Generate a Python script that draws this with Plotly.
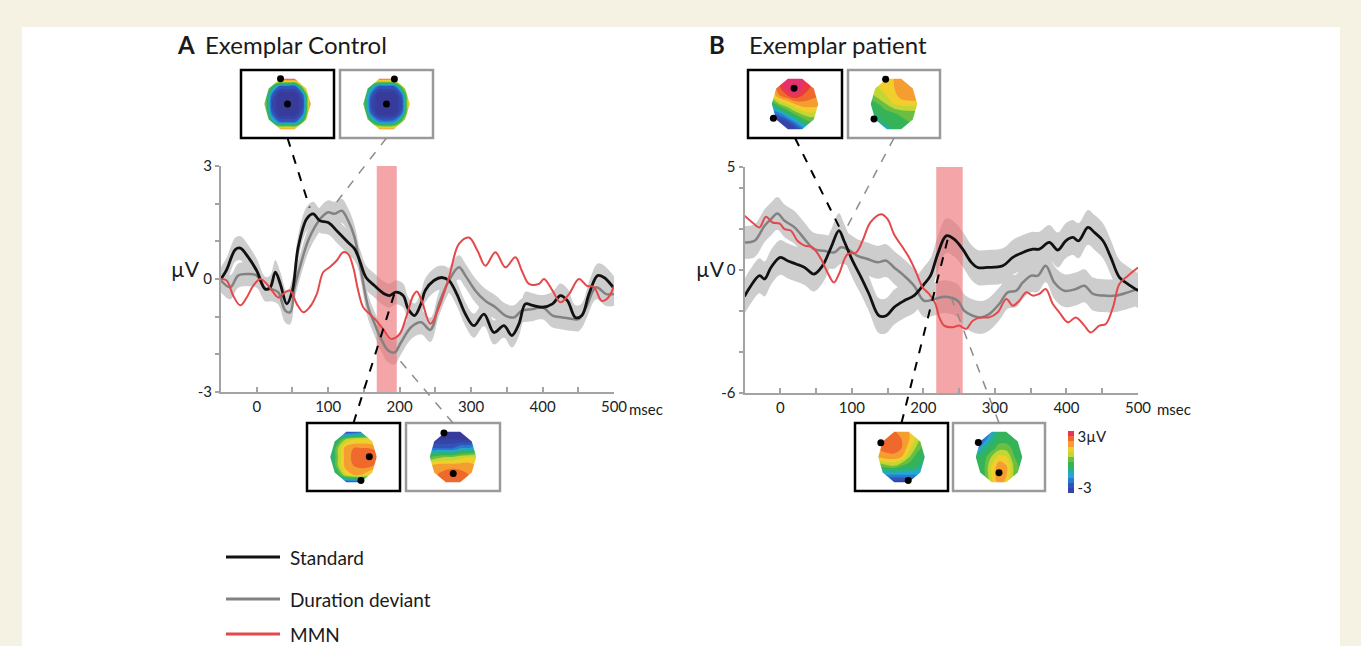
import plotly.graph_objects as go
import numpy as np

# ---------------- DATA ----------------
# Panel A: exemplar control (µV vs msec)
A_STD_T = [-50, -42, -35, -30, -23, -12, 0, 12, 19, 26, 33, 42, 50, 58, 70, 79, 88, 100, 114, 128, 137, 144,
           153, 165, 179, 186, 195, 205, 212, 221, 230, 236, 248, 259, 269, 280, 292, 304, 318, 332, 346, 357,
           367, 376, 386, 400, 414, 425, 435, 446, 455, 465, 477, 486, 500]
A_STD_V = [0.0, 0.25, 0.6, 0.78, 0.82, 0.58, 0.22, -0.27, -0.22, 0.18, -0.13, -0.66, -0.3, 0.84, 1.6, 1.73, 1.55,
           1.5, 1.24, 0.97, 0.8, 0.49, 0.04, -0.18, -0.4, -0.44, -0.35, -0.44, -0.8, -0.97, -0.65, -0.3, -0.04,
           0.04, -0.04, -0.4, -0.93, -1.24, -0.93, -1.42, -1.24, -1.5, -1.19, -0.66, -0.7, -0.75, -0.66, -0.44,
           -0.58, -1.02, -0.97, -0.4, 0.09, 0.04, -0.25]
A_DEV_T = [-50, -37, -26, -12, 0, 12, 21, 30, 40, 47, 53, 63, 72, 81, 91, 100, 109, 119, 128, 137, 146, 156, 165,
           174, 184, 193, 202, 216, 230, 243, 255, 269, 283, 292, 306, 320, 334, 348, 360, 371, 386, 400, 414,
           428, 442, 451, 461, 475, 489, 500]
A_DEV_V = [-0.04, -0.22, 0.09, 0.13, 0.09, -0.27, -0.27, -0.35, -0.84, -0.88, -0.22, 0.49, 1.02, 1.37, 1.64, 1.77,
           1.73, 1.81, 1.55, 1.1, 0.22, -0.75, -1.19, -1.59, -1.9, -1.95, -1.68, -1.28, -1.15, -1.35, -0.66, -0.04,
           0.31, 0.09, -0.31, -0.58, -0.75, -0.97, -1.02, -0.84, -0.8, -0.75, -0.97, -1.02, -1.06, -1.06, -0.75,
           -0.22, -0.4, -0.4]
A_MMN_T = [-50, -42, -33, -23, -14, -5, 5, 14, 23, 30, 40, 47, 56, 65, 74, 84, 93, 102, 112, 121, 128, 135, 142,
           149, 158, 167, 177, 188, 200, 209, 219, 224, 231, 243, 255, 269, 283, 297, 309, 320, 334, 348, 362, 371,
           381, 395, 402, 414, 425, 437, 451, 462, 472, 483, 492, 500]
A_MMN_V = [0.0, -0.04, -0.44, -0.7, -0.49, -0.18, 0.0, -0.13, -0.35, -0.49, -0.35, -0.31, -0.66, -0.88, -0.75,
           -0.4, 0.18, 0.31, 0.49, 0.71, 0.66, 0.31, -0.31, -0.75, -0.93, -1.1, -1.33, -1.59, -1.46, -1.02, -0.44,
           -0.33, -0.58, -1.19, -0.75, 0.04, 0.93, 1.1, 0.75, 0.35, 0.71, 0.31, 0.58, 0.22, -0.13, -0.13, 0.0,
           -0.31, -0.62, -0.4, 0.0, -0.18, -0.22, -0.58, -0.49, -0.18]
A_SEM_STD = 0.32
A_SEM_DEV = 0.32
A_MMN_WINDOW = [168, 196]

# Panel B: exemplar patient
B_STD_T = [-50, -41, -29, -22, -13, 0, 10, 22, 34, 47, 59, 71, 82, 89, 101, 113, 124, 138, 148, 159, 173, 187, 201,
           210, 220, 232, 243, 255, 267, 276, 290, 311, 325, 339, 353, 362, 376, 388, 399, 409, 417, 430, 439, 451,
           462, 474, 486, 500]
B_STD_V = [-1.3, -0.78, -0.29, -0.45, 0.11, 0.6, 0.44, 0.28, 0.11, -0.21, 0.19, 1.09, 1.9, 1.41, 0.44, -0.37, -1.18,
           -2.24, -2.24, -1.83, -1.51, -1.26, -0.7, -0.29, 0.76, 1.65, 1.49, 1.0, 0.36, 0.11, 0.11, 0.19, 0.6, 0.84,
           1.0, 1.0, 1.33, 0.96, 1.41, 1.57, 1.41, 2.06, 1.82, 1.41, 0.6, -0.37, -0.7, -1.02]
B_DEV_T = [-50, -36, -22, -13, -4, 6, 20, 34, 47, 61, 75, 85, 94, 108, 122, 136, 148, 159, 173, 187, 201, 215, 231,
           248, 257, 269, 281, 292, 306, 318, 330, 339, 351, 360, 371, 383, 397, 413, 425, 437, 451, 469, 486, 500]
B_DEV_V = [1.33, 1.41, 2.14, 2.46, 2.74, 2.38, 2.06, 1.49, 1.0, 0.92, 0.84, 1.09, 1.0, 0.68, 0.52, 0.36, 0.44, 0.11,
           -0.29, -0.78, -1.51, -1.43, -1.31, -1.51, -1.99, -2.24, -2.32, -2.16, -1.67, -1.1, -1.02, -0.62, -0.29,
           -0.29, 0.19, -0.62, -1.02, -0.94, -0.78, -1.18, -1.26, -1.26, -1.1, -0.94]
B_MMN_T = [-50, -39, -29, -20, -11, -1, 6, 15, 24, 34, 45, 57, 66, 75, 82, 94, 106, 115, 126, 141, 150, 159, 171,
           180, 189, 199, 208, 217, 222, 229, 241, 250, 260, 269, 281, 292, 304, 316, 325, 334, 344, 353, 362, 371,
           381, 390, 402, 413, 425, 434, 446, 455, 465, 474, 486, 500]
B_MMN_V = [2.63, 2.3, 2.06, 2.58, 2.3, 2.25, 1.98, 1.9, 1.41, 1.17, 1.09, 0.52, -0.13, -0.62, -0.21, 0.76, 0.84,
           1.41, 2.3, 2.7, 2.46, 1.73, 1.09, 0.6, -0.05, -0.86, -1.18, -1.67, -2.3, -2.72, -2.8, -2.72, -2.88,
           -2.48, -2.32, -2.32, -2.07, -1.43, -1.75, -1.51, -1.1, -1.26, -1.18, -0.94, -1.67, -2.07, -2.56, -2.32,
           -2.72, -3.05, -2.72, -2.64, -1.83, -0.7, -0.29, 0.11]
B_SEM_STD = 0.85
B_SEM_DEV = 0.8
B_MMN_WINDOW = [218, 255]

SERIES_NAMES = ["Standard", "Duration deviant", "MMN"]
A_TITLE = ("A", "Exemplar Control")
B_TITLE = ("B", "Exemplar patient")
A_YTICKS = [-3, -2, -1, 0, 1, 2, 3]
A_YLABELS = ["-3", "", "", "0", "", "", "3"]
B_YTICKS = [-6, -4, -2, 0, 2, 4, 5]
B_YLABELS = ["-6", "", "", "0", "", "", "5"]
XTICKS = [-50, 0, 50, 100, 150, 200, 250, 300, 350, 400, 450, 500]
XLABELS = ["", "0", "", "100", "", "200", "", "300", "", "400", "", "500"]
CBAR_LABELS = ["-3", "3µV"]

# Scalp maps (µV; rows top -> bottom of head, columns left -> right)
GRID = [-1, -2 / 3, -1 / 3, 0, 1 / 3, 2 / 3, 1]
MAP_A_TOP_STD = [[3, 3, 3.5, 3.5, 3.5, 3.5, 3],
                 [1.5, 0, -2, -2, -2, 1, 3],
                 [1, -2, -3.5, -3.5, -3.5, -2, 2.5],
                 [1, -2.5, -3.5, -3.5, -3.5, -2.5, 2.5],
                 [1, -2, -3.5, -3.5, -3.5, -2, 2.5],
                 [1.5, -0.5, -2, -2, -2, 0, 2.5],
                 [2.5, 2.5, 2.5, 2.5, 2.5, 2.5, 2.5]]
MAP_A_TOP_DEV = [[2.5, 3, 3, 3, 3, 3, 2.5],
                 [1, -0.5, -2, -2, -2, 0.5, 2.5],
                 [0.5, -2, -3.5, -3.5, -3.5, -2, 2],
                 [0.5, -2.5, -3.5, -3.5, -3.5, -2.5, 2],
                 [1, -2, -3.5, -3.5, -3.5, -2, 2],
                 [1.5, 0, -1.5, -1.8, -1.5, 0.5, 2],
                 [2, 2.5, 2.5, 2.5, 2.5, 2.5, 2]]
MAP_A_BOT_STD = [[-2.5, -3, -3, -3, -2.5, -2, -1.5],
                 [-1.5, -0.5, 0.5, 1, 1, 1, 0.5],
                 [-1, 0.5, 1.8, 2, 2, 2, 1.8],
                 [-1, 0.5, 1.8, 2.1, 2.3, 2.5, 2.5],
                 [-1, 0.5, 1.8, 2, 2.2, 2.2, 1.8],
                 [-1.5, -0.5, 1, 1.5, 1.5, 1, 0.5],
                 [-3, -3, -3, -3, -3, -2.5, -2]]
MAP_A_BOT_DEV = [[-3, -3, -3, -3, -3, -3, -3],
                 [-3, -3, -3, -3, -3, -3, -2.5],
                 [-2, -2, -2, -2, -1.5, -1.5, -1],
                 [0, 0.3, 0.5, 0.5, 0.8, 1, 1],
                 [1.5, 1.8, 1.8, 1.8, 1.8, 1.8, 1.5],
                 [1.8, 2, 2.2, 2.4, 2.2, 2, 1.8],
                 [1.8, 2, 2.2, 2.5, 2.2, 2, 1.8]]
MAP_B_TOP_STD = [[1.5, 2.5, 3, 3.5, 3, 2.5, 2],
                 [1.5, 2.5, 3.5, 3.5, 3, 2.5, 2],
                 [1, 2, 2.5, 3, 2.5, 2.2, 2],
                 [-0.5, 0.5, 1, 1.5, 1.8, 1.8, 1.8],
                 [-2, -1.5, -0.5, 0.3, 0.8, 1, 0.8],
                 [-3, -3, -2.5, -1.5, -0.5, 0, 0],
                 [-3, -3, -3, -3, -2, -1, -0.5]]
MAP_B_TOP_DEV = [[0.8, 1, 1.2, 1.5, 2, 2, 2],
                 [0.8, 1, 1.2, 1.5, 2, 2, 2],
                 [0.3, 0.8, 1, 1.3, 1.8, 2, 2],
                 [-0.3, 0, 0.5, 1, 1.2, 1.2, 1.2],
                 [-0.5, -0.3, -0.2, 0, 0.2, 0.3, 0.3],
                 [-1.5, -0.8, -0.3, -0.3, -0.2, 0, 0],
                 [-2.5, -2, -1.5, -0.5, -0.3, -0.3, -0.3]]
MAP_B_BOT_STD = [[1.8, 2, 2, 1.8, 1.5, 1, 0.5],
                 [2, 2.2, 2.3, 2, 1.5, 0.8, 0],
                 [2, 2.2, 2.3, 2, 1.2, 0.3, -0.3],
                 [1.5, 1.8, 1.8, 1.5, 0.5, -0.3, -0.5],
                 [0, 0.3, 0.5, 0, -0.3, -0.5, -1],
                 [-1.5, -1.5, -1.5, -1.5, -1.5, -1.5, -1.5],
                 [-3, -3, -3, -3, -3, -3, -2.5]]
MAP_B_BOT_DEV = [[-3, -2.5, -1.5, -0.5, -0.3, -0.3, -0.3],
                 [-3, -2, -0.8, -0.3, -0.3, -0.3, -0.3],
                 [-2, -0.8, -0.3, 0.3, 0.3, -0.2, -0.3],
                 [-0.5, -0.3, 0.5, 1.2, 1, 0, -0.3],
                 [-0.3, -0.2, 1, 1.8, 1.5, 0.3, -0.3],
                 [-0.3, -0.2, 1, 2, 1.5, 0.3, -0.3],
                 [-0.3, -0.3, 0.8, 1.8, 1.2, 0, -0.3]]
# electrode dots (head coordinates)
DOTS_A_TOP_STD = [(-0.3, 0.95), (0, 0)]
DOTS_A_TOP_DEV = [(0.34, 0.94), (0, 0)]
DOTS_A_BOT_STD = [(0.68, 0.01), (0.32, -0.89)]
DOTS_A_BOT_DEV = [(-0.39, 0.91), (0.01, -0.62)]
DOTS_B_TOP_STD = [(-0.04, 0.59), (-0.93, -0.54)]
DOTS_B_TOP_DEV = [(-0.36, 0.93), (-0.86, -0.57)]
DOTS_B_BOT_STD = [(-0.89, 0.54), (0.29, -0.89)]
DOTS_B_BOT_DEV = [(-0.89, 0.55), (0, -0.59)]
# point on the curves each map is linked to (msec, µV)
LINK_A_TOP_STD = (74, 1.9)
LINK_A_TOP_DEV = (106, 1.9)
LINK_A_BOT_STD = (193, -0.37)
LINK_A_BOT_DEV = (196, -2.07)
LINK_B_TOP_STD = (83, 2.04)
LINK_B_TOP_DEV = (92, 2.0)
LINK_B_BOT_STD = (234, 1.49)
LINK_B_BOT_DEV = (237, -1.18)

# ---------------- STYLE / LAYOUT ----------------
W, H = 1361, 646
FONT = "Lato"
C_STD, C_DEV, C_MMN = "#111111", "#828282", "#e5484b"
SHADE = "#cdcdcd"
BAND = "rgba(238,110,115,0.62)"
AXC = "#a3a3a3"

def PX(x): return x / W
def PY(y): return 1 - y / H

A_XDOM = [PX(221), PX(614)]; A_YDOM = [PY(392), PY(166)]
B_XDOM = [PX(744.5), PX(1138)]; B_YDOM = [PY(393), PY(167)]
XR = [-50, 500]
A_YR = [-3, 3]; B_YR = [-6, 5]

JET = [[0, "#373c9c"], [0.15, "#3158bf"], [0.28, "#22a6e0"], [0.4, "#2bb36b"], [0.5, "#3db34a"],
       [0.6, "#a8cf38"], [0.67, "#f0e42a"], [0.78, "#f6a431"], [0.88, "#f0662c"], [0.95, "#eb3b3b"],
       [1, "#e5306e"]]

fig = go.Figure()
shapes, annots = [], []

def panel(ax, ay, std_t, std_v, dev_t, dev_v, mmn_t, mmn_v, sem_s, sem_d, win, yr):
    for t, v, s in ((std_t, std_v, sem_s), (dev_t, dev_v, sem_d)):
        vv = np.array(v)
        fig.add_trace(go.Scatter(x=t, y=vv + s, mode="lines", line=dict(width=0, shape="spline"), xaxis=ax,
                                 yaxis=ay, hoverinfo="skip", showlegend=False))
        fig.add_trace(go.Scatter(x=t, y=vv - s, mode="lines", line=dict(width=0, shape="spline"), fill="tonexty",
                                 fillcolor=SHADE, xaxis=ax, yaxis=ay, hoverinfo="skip", showlegend=False))
    fig.add_trace(go.Scatter(x=[win[0], win[1], win[1], win[0], win[0]], y=[yr[0], yr[0], yr[1], yr[1], yr[0]],
                             mode="lines", line=dict(width=0), fill="toself", fillcolor=BAND,
                             xaxis=ax, yaxis=ay, hoverinfo="skip", showlegend=False))
    fig.add_trace(go.Scatter(x=dev_t, y=dev_v, mode="lines", line=dict(color=C_DEV, width=2.5, shape="spline"),
                             xaxis=ax, yaxis=ay, name=SERIES_NAMES[1], showlegend=False))
    fig.add_trace(go.Scatter(x=std_t, y=std_v, mode="lines", line=dict(color=C_STD, width=2.8, shape="spline"),
                             xaxis=ax, yaxis=ay, name=SERIES_NAMES[0], showlegend=False))
    fig.add_trace(go.Scatter(x=mmn_t, y=mmn_v, mode="lines", line=dict(color=C_MMN, width=2, shape="spline"),
                             xaxis=ax, yaxis=ay, name=SERIES_NAMES[2], showlegend=False))

panel("x", "y", A_STD_T, A_STD_V, A_DEV_T, A_DEV_V, A_MMN_T, A_MMN_V, A_SEM_STD, A_SEM_DEV, A_MMN_WINDOW, A_YR)
panel("x2", "y2", B_STD_T, B_STD_V, B_DEV_T, B_DEV_V, B_MMN_T, B_MMN_V, B_SEM_STD, B_SEM_DEV, B_MMN_WINDOW, B_YR)

layout_axes = {}
def main_axes(n, xd, yd, yr, yt, yl):
    sx = "" if n == 1 else str(n)
    layout_axes["xaxis" + sx] = dict(domain=xd, range=XR, anchor="y" + sx, showgrid=False, zeroline=False,
                                     showline=True, linecolor=AXC, linewidth=2, ticks="inside", ticklen=5,
                                     tickcolor=AXC, tickwidth=1.5, tickmode="array", tickvals=XTICKS,
                                     ticktext=XLABELS, automargin=False,
                                     tickfont=dict(family=FONT, size=15, color="#222"))
    layout_axes["yaxis" + sx] = dict(domain=yd, range=yr, anchor="x" + sx, showgrid=False, zeroline=False,
                                     showline=True, linecolor=AXC, linewidth=2, ticks="outside", ticklen=4,
                                     tickcolor=AXC, tickwidth=1.5, tickmode="array", tickvals=yt,
                                     ticktext=yl, automargin=False,
                                     tickfont=dict(family=FONT, size=15, color="#222"))

main_axes(1, A_XDOM, A_YDOM, A_YR, A_YTICKS, A_YLABELS)
main_axes(2, B_XDOM, B_YDOM, B_YR, B_YTICKS, B_YLABELS)

def to_paper(t, v, xd, yd, yr):
    return (xd[0] + (t - XR[0]) / (XR[1] - XR[0]) * (xd[1] - xd[0]),
            yd[0] + (v - yr[0]) / (yr[1] - yr[0]) * (yd[1] - yd[0]))

# scalp-map boxes (pixel boxes: x0, x1, y0, y1)
MAPS = [
    (MAP_A_TOP_STD, DOTS_A_TOP_STD, (241, 334, 70, 138), "black", LINK_A_TOP_STD, "A", "top"),
    (MAP_A_TOP_DEV, DOTS_A_TOP_DEV, (340, 433, 70, 138), "dev", LINK_A_TOP_DEV, "A", "top"),
    (MAP_A_BOT_STD, DOTS_A_BOT_STD, (307, 400, 423, 491), "black", LINK_A_BOT_STD, "A", "bot"),
    (MAP_A_BOT_DEV, DOTS_A_BOT_DEV, (406, 500, 423, 491), "dev", LINK_A_BOT_DEV, "A", "bot"),
    (MAP_B_TOP_STD, DOTS_B_TOP_STD, (748, 842, 70, 138), "black", LINK_B_TOP_STD, "B", "top"),
    (MAP_B_TOP_DEV, DOTS_B_TOP_DEV, (848, 940, 70, 138), "dev", LINK_B_TOP_DEV, "B", "top"),
    (MAP_B_BOT_STD, DOTS_B_BOT_STD, (855, 948, 423, 491), "black", LINK_B_BOT_STD, "B", "bot"),
    (MAP_B_BOT_DEV, DOTS_B_BOT_DEV, (953, 1045, 423, 491), "dev", LINK_B_BOT_DEV, "B", "bot"),
]
ang = np.deg2rad(np.arange(0, 360, 36))
dec = list(zip(np.cos(ang), np.sin(ang)))

for i, (zrows, dots, (x0, x1, y0, y1), kind, link, pnl, pos) in enumerate(MAPS):
    n = i + 3
    ax, ay = "x%d" % n, "y%d" % n
    xr = [-(x1 - x0) / 2 / 23.25, (x1 - x0) / 2 / 23.25]
    yrr = [-(y1 - y0) / 2 / 26.5, (y1 - y0) / 2 / 26.5]
    layout_axes["xaxis%d" % n] = dict(domain=[PX(x0), PX(x1)], range=xr, anchor=ay, visible=False,
                                      fixedrange=True, automargin=False)
    layout_axes["yaxis%d" % n] = dict(domain=[PY(y1), PY(y0)], range=yrr, anchor=ax, visible=False,
                                      fixedrange=True, automargin=False)
    first = (i == 0)
    fig.add_trace(go.Contour(x=GRID, y=GRID, z=zrows[::-1], xaxis=ax, yaxis=ay, colorscale=JET, zmin=-3, zmax=3,
                             contours=dict(start=-3, end=3, size=0.5, coloring="fill"), line=dict(width=0),
                             showscale=first, hoverinfo="skip",
                             colorbar=dict(x=PX(1068), xanchor="left", y=PY(462), yanchor="middle", len=62,
                                           lenmode="pixels", thickness=6, outlinewidth=0, tickvals=[-2.5, 2.4],
                                           ticktext=CBAR_LABELS, ticks="", xpad=0, ypad=0,
                                           tickfont=dict(family=FONT, size=15, color="#222"))))
    path = "M %f %f L %f %f L %f %f L %f %f Z " % (xr[0], yrr[0], xr[1], yrr[0], xr[1], yrr[1], xr[0], yrr[1])
    path += "M " + " L ".join("%f %f" % (c, s) for c, s in dec) + " Z"
    shapes.append(dict(type="path", path=path, xref=ax, yref=ay, fillcolor="white", fillrule="evenodd",
                       line=dict(width=0), layer="above"))
    for dx, dy in dots:
        shapes.append(dict(type="circle", xref=ax, yref=ay, x0=dx - 0.15, x1=dx + 0.15, y0=dy - 0.132,
                           y1=dy + 0.132, fillcolor="black", line=dict(width=0), layer="above"))
    col = "black" if kind == "black" else "#9a9a9a"
    shapes.append(dict(type="rect", xref=ax + " domain", yref=ay + " domain", x0=0, x1=1, y0=0, y1=1,
                       line=dict(color=col, width=2.5), layer="above"))
    # dashed connector
    if pnl == "A":
        lx, ly = to_paper(link[0], link[1], A_XDOM, A_YDOM, A_YR)
    else:
        lx, ly = to_paper(link[0], link[1], B_XDOM, B_YDOM, B_YR)
    bx = PX((x0 + x1) / 2)
    by = PY(y1) if pos == "top" else PY(y0)
    dcol = "black" if kind == "black" else "#8c8c8c"
    shapes.append(dict(type="line", xref="paper", yref="paper", x0=bx, y0=by, x1=lx, y1=ly,
                       line=dict(color=dcol, width=2 if kind == "black" else 1.5, dash="dash"), layer="above"))

# white panel
shapes.insert(0, dict(type="rect", xref="paper", yref="paper", x0=PX(22), x1=PX(1340), y0=-0.01, y1=PY(27),
                      fillcolor="white", line=dict(width=0), layer="below"))

# titles and labels
annots += [
    dict(text="<b>%s</b>" % A_TITLE[0], x=PX(175), y=PY(44), xanchor="left", yanchor="middle", font=dict(size=24)),
    dict(text=A_TITLE[1], x=PX(203), y=PY(44), xanchor="left", yanchor="middle", font=dict(size=24)),
    dict(text="<b>%s</b>" % B_TITLE[0], x=PX(707), y=PY(44), xanchor="left", yanchor="middle", font=dict(size=24)),
    dict(text=B_TITLE[1], x=PX(747), y=PY(44), xanchor="left", yanchor="middle", font=dict(size=24)),
    dict(text="µV", x=PX(185), y=PY(268), xanchor="center", yanchor="middle", font=dict(size=21)),
    dict(text="µV", x=PX(710), y=PY(268), xanchor="center", yanchor="middle", font=dict(size=21)),
    dict(text="msec", x=PX(627), y=PY(409), xanchor="left", yanchor="middle", font=dict(size=15)),
    dict(text="msec", x=PX(1155), y=PY(409), xanchor="left", yanchor="middle", font=dict(size=15)),
]
# legend
for name, col, yy in zip(SERIES_NAMES, [C_STD, C_DEV, C_MMN], [557, 599, 634]):
    shapes.append(dict(type="line", xref="paper", yref="paper", x0=PX(226), x1=PX(280), y0=PY(yy), y1=PY(yy),
                       line=dict(color=col, width=3)))
    annots.append(dict(text=name, x=PX(288), y=PY(yy), xanchor="left", yanchor="middle", font=dict(size=19)))

for a in annots:
    a.update(xref="paper", yref="paper", showarrow=False)
    a["font"].update(family=FONT, color="#1a1a1a")

fig.update_layout(width=W, height=H, margin=dict(l=0, r=0, t=0, b=0, pad=0, autoexpand=False),
                  paper_bgcolor="#f5f2e4", plot_bgcolor="rgba(0,0,0,0)", showlegend=False, shapes=shapes,
                  annotations=annots, font=dict(family=FONT), **layout_axes)
fig.write_html("out.html", config={"displayModeBar": False},
               post_script="document.body.style.margin='0';document.body.style.overflow='hidden';")
